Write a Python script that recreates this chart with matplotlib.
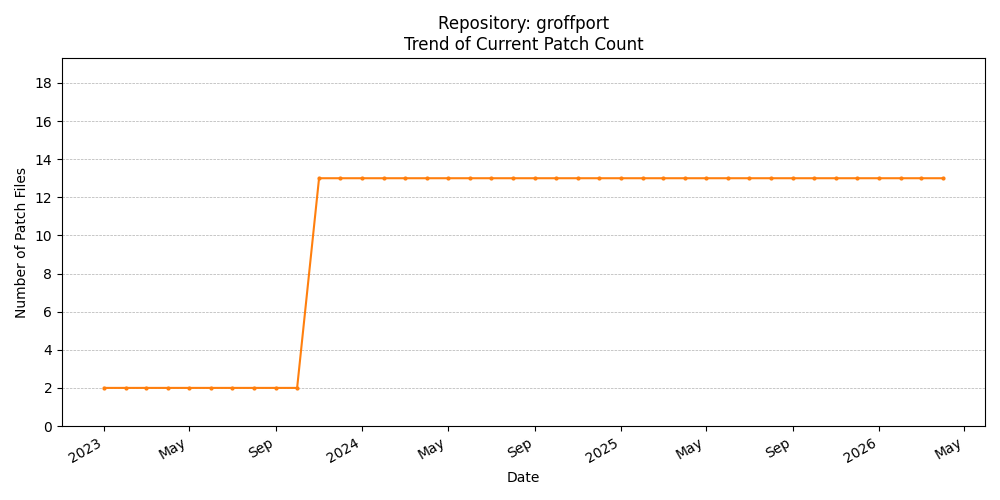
import matplotlib
matplotlib.use("Agg")
import matplotlib.pyplot as plt
import matplotlib.dates as mdates
import pandas as pd

dates = pd.date_range("2023-01-01", "2026-04-01", freq="MS")
values = [2]*10 + [13]*(len(dates)-10)

fig, ax = plt.subplots(figsize=(10, 5), dpi=100)
ax.plot(dates, values, marker="o", markersize=2, color="#ff7f0e")
ax.set_title("Repository: groffport\nTrend of Current Patch Count")
ax.set_xlabel("Date")
ax.set_ylabel("Number of Patch Files")
ax.set_ylim(0, 19.3)
ax.set_yticks(range(0, 19, 2))
ax.grid(axis="y", linestyle="--", linewidth=0.5)
ax.xaxis.set_major_locator(mdates.MonthLocator(bymonth=[1, 5, 9]))
ax.xaxis.set_major_formatter(plt.FuncFormatter(
    lambda x, p: mdates.num2date(x).strftime("%Y" if mdates.num2date(x).month == 1 else "%b")))
fig.autofmt_xdate()
fig.tight_layout()
fig.savefig("out.png")
